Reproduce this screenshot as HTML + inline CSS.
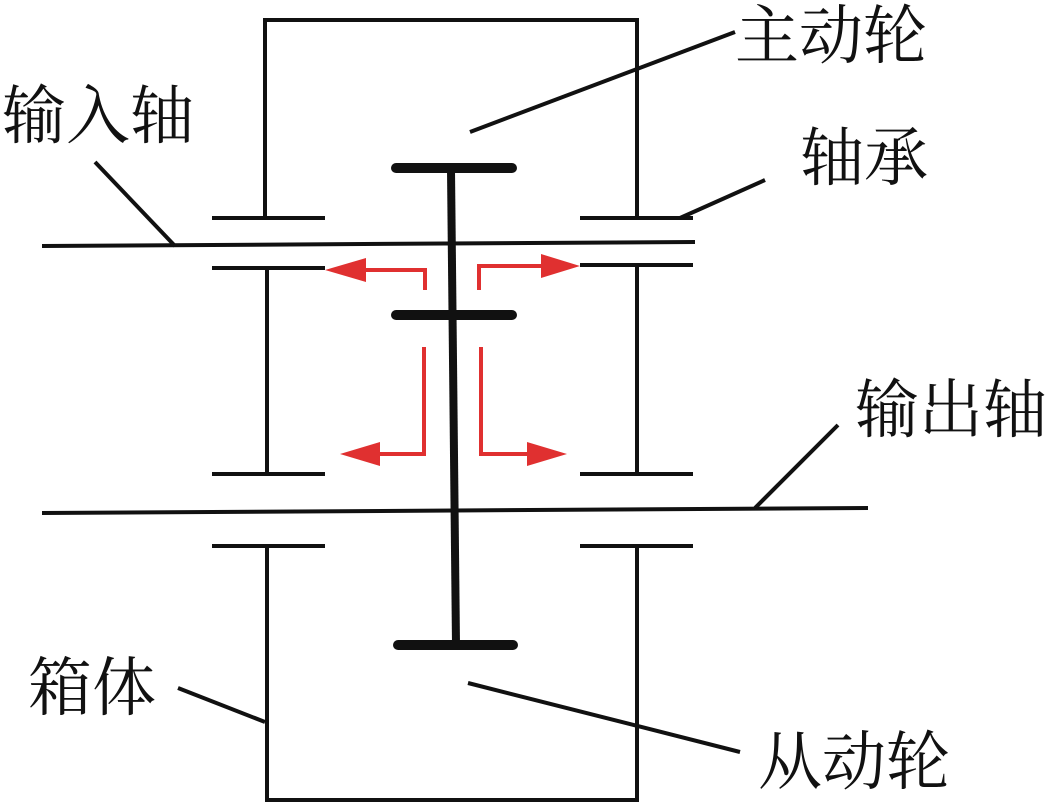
<!DOCTYPE html>
<html><head><meta charset="utf-8"><style>
body{margin:0;background:#fff;}
svg{display:block}
text{font-family:"Liberation Serif","Noto Serif CJK SC",serif;font-size:64px;fill:#111;}
</style></head><body>
<svg width="1050" height="805" viewBox="0 0 1050 805">
<g stroke="#111" stroke-width="4" fill="none">
<!-- box -->
<polyline points="265,218 265,20 637,20 637,218"/>
<line x1="267" y1="268" x2="267" y2="472"/>
<line x1="637" y1="265" x2="637" y2="472"/>
<polyline points="267,546 267,800 637,800 637,546"/>
<!-- bearings -->
<line x1="212" y1="218" x2="325" y2="218"/>
<line x1="212" y1="268" x2="325" y2="268"/>
<line x1="580" y1="218" x2="693" y2="218"/>
<line x1="580" y1="265" x2="693" y2="265"/>
<line x1="212" y1="474" x2="325" y2="474"/>
<line x1="212" y1="546" x2="325" y2="546"/>
<line x1="580" y1="474" x2="693" y2="474"/>
<line x1="580" y1="546" x2="693" y2="546"/>
<!-- shafts -->
<line x1="42" y1="246" x2="695" y2="242"/>
<line x1="42" y1="513" x2="868" y2="508"/>
<!-- leaders -->
<line x1="470" y1="132" x2="735" y2="32"/>
<line x1="680" y1="218" x2="765" y2="180"/>
<line x1="95" y1="162" x2="175" y2="246"/>
<line x1="755" y1="508" x2="838" y2="425"/>
<line x1="178" y1="688" x2="265" y2="722"/>
<line x1="468" y1="683" x2="740" y2="752"/>
</g>
<g stroke="#111" stroke-linecap="round">
<line x1="451" y1="170" x2="456" y2="645" stroke-width="8" stroke-linecap="butt"/>
<line x1="396" y1="168" x2="512" y2="168" stroke-width="10"/>
<line x1="396" y1="315" x2="512" y2="315" stroke-width="10"/>
<line x1="398" y1="645" x2="513" y2="645" stroke-width="10"/>
</g>
<g stroke="#e03030" stroke-width="4" fill="none">
<polyline points="425,290 425,270 365,270"/>
<polyline points="479,290 479,266 542,266"/>
<polyline points="424,347 424,454 380,454"/>
<polyline points="481,347 481,454 528,454"/>
</g>
<g fill="#e03030">
<polygon points="325,270 366,258 366,282"/>
<polygon points="580,266 541,254 541,278"/>
<polygon points="340,454 380,442 380,466"/>
<polygon points="567,454 527,442 527,466"/>
</g>
<text x="735" y="58">主动轮</text>
<text x="2" y="138">输入轴</text>
<text x="800" y="180">轴承</text>
<text x="855" y="432">输出轴</text>
<text x="28" y="710">箱体</text>
<text x="758" y="784">从动轮</text>
</svg>
</body></html>
